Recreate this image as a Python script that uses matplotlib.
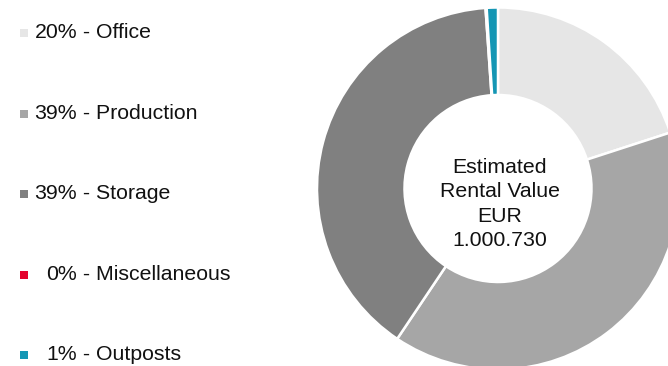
import matplotlib
matplotlib.use("Agg")
import matplotlib.pyplot as plt

categories = ["Office", "Production", "Storage", "Miscellaneous", "Outposts"]
values = [20.0, 39.4, 39.5, 0.1, 1.0]
pct_labels = ["20%", "39%", "39%", "0%", "1%"]
colors = ["#e6e6e6", "#a6a6a6", "#808080", "#e4032e", "#1496b4"]
center_text = "Estimated\nRental Value\nEUR\n1.000.730"

plt.rcParams['font.family'] = ['Liberation Sans', 'DejaVu Sans']

W, H = 668, 366
fig = plt.figure(figsize=(W / 100, H / 100), dpi=100)
ax = fig.add_axes([0, 0, 1, 1])
ax.set_xlim(0, W)
ax.set_ylim(0, H)
ax.set_aspect('equal')
ax.axis('off')

cx, cy = 498, H - 188.5
R = 181
ax.pie(values, colors=colors, startangle=90, counterclock=False,
       center=(cx, cy), radius=R, frame=True,
       wedgeprops=dict(width=R - 93.5, edgecolor='white', linewidth=1.8))
ax.set_xlim(0, W)
ax.set_ylim(0, H)
ax.axis('off')

fs = 15.3
ax.text(cx + 2, H - 204, center_text, ha='center', va='center',
        multialignment='center', fontsize=fs, linespacing=1.36, color='#111111')

row_y = [32.5, 113.5, 193.5, 274.5, 354.5]
for name, pct, col, yy in zip(categories, pct_labels, colors, row_y):
    y = H - yy
    ax.scatter([24], [y], marker='s', s=26, color=col, linewidths=0)
    ax.text(77, y, pct, ha='right', va='center', fontsize=fs, color='#111111')
    ax.text(77, y, " - " + name, ha='left', va='center', fontsize=fs, color='#111111')

fig.savefig("out.png", dpi=100)
